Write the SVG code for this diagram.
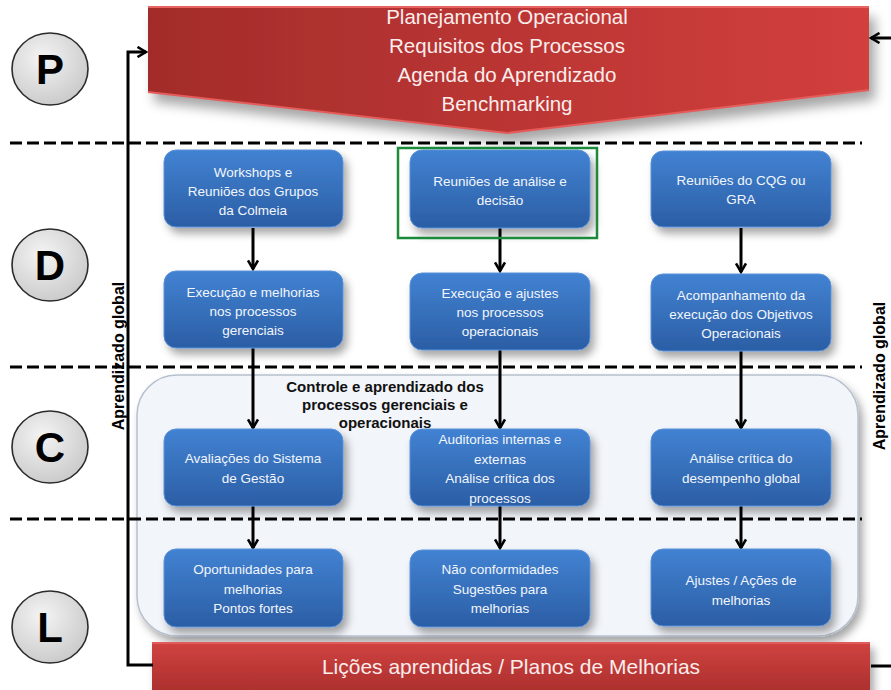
<svg xmlns="http://www.w3.org/2000/svg" width="891" height="690" viewBox="0 0 891 690">
<defs>
  <linearGradient id="gBlue" x1="0" y1="0" x2="0" y2="1">
    <stop offset="0" stop-color="#4282D2"/>
    <stop offset="1" stop-color="#2B5EA5"/>
  </linearGradient>
  <linearGradient id="gRedTop" x1="0" y1="0" x2="1" y2="0">
    <stop offset="0" stop-color="#A32C2A"/>
    <stop offset="1" stop-color="#D23F3D"/>
  </linearGradient>
  <linearGradient id="gRedBot" x1="0" y1="0" x2="0" y2="1">
    <stop offset="0" stop-color="#D04341"/>
    <stop offset="1" stop-color="#AA2E2C"/>
  </linearGradient>
  <radialGradient id="gCircle" cx="0.4" cy="0.35" r="0.7">
    <stop offset="0" stop-color="#F4F4F4"/>
    <stop offset="1" stop-color="#C9C9C9"/>
  </radialGradient>
  <filter id="shadow" x="-20%" y="-20%" width="150%" height="160%">
    <feDropShadow dx="4" dy="6" stdDeviation="4" flood-color="#000" flood-opacity="0.35"/>
  </filter>
  <filter id="shadowBig" x="-10%" y="-20%" width="125%" height="160%">
    <feDropShadow dx="6" dy="10" stdDeviation="6" flood-color="#000" flood-opacity="0.35"/>
  </filter>
  <marker id="arr" viewBox="0 0 12 12" refX="10" refY="6" markerWidth="12" markerHeight="12" markerUnits="userSpaceOnUse" orient="auto">
    <path d="M1.5 1 L10 6 L1.5 11" fill="none" stroke="#000" stroke-width="2.6"/>
  </marker>
</defs>
<style>
  .box { fill: url(#gBlue); stroke: #5B92DA; stroke-width: 1; filter: url(#shadow); }
  .bt { font-family: "Liberation Sans", Arial, sans-serif; font-size: 13.5px; fill: #F2F6FC; text-anchor: middle; }
  .dash { stroke: #000; stroke-width: 3; stroke-dasharray: 12 5; fill: none; }
  .conn { stroke: #000; stroke-width: 3; fill: none; }
  .circ { fill: url(#gCircle); stroke: #2B2B2B; stroke-width: 1.6; }
  .letter { font-family: "Liberation Sans", Arial, sans-serif; font-weight: bold; font-size: 42px; fill: #000; text-anchor: middle; }
  .side { font-family: "Liberation Sans", Arial, sans-serif; font-weight: bold; font-size: 16px; fill: #000; text-anchor: middle; }
  .ban { font-family: "Liberation Sans", Arial, sans-serif; font-size: 20.5px; fill: #FBEDEC; text-anchor: middle; }
  .pl { font-family: "Liberation Sans", Arial, sans-serif; font-weight: bold; font-size: 15px; fill: #111; text-anchor: middle; }
</style>

<!-- light panel -->
<g id="panel">
  <rect x="137" y="375" width="721" height="261" rx="40" fill="#F2F5FA" stroke="#B6C0CE" stroke-width="1.5" filter="url(#shadow)"/>
  <text class="pl" x="385" y="392">Controle e aprendizado dos</text>
  <text class="pl" x="385" y="410">processos gerenciais e</text>
  <text class="pl" x="385" y="428">operacionais</text>
</g>

<!-- dashed separators -->
<g id="separators">
  <line class="dash" x1="10" y1="143" x2="862" y2="143"/>
  <line class="dash" x1="10" y1="367" x2="862" y2="367"/>
  <line class="dash" x1="10" y1="519" x2="862" y2="519"/>
</g>

<!-- top banner -->
<g id="planejamento">
  <polygon points="148,7 869,7 869,90 507,133 148,92" fill="url(#gRedTop)" filter="url(#shadowBig)"/>
  <polyline points="148,7 869,7" stroke="#E86462" stroke-width="2" fill="none"/>
  <polyline points="148,92 507,133 869,90" stroke="#E55B59" stroke-width="2" fill="none"/>
  <text class="ban" x="507" y="24">Planejamento Operacional</text>
  <text class="ban" x="507" y="53">Requisitos dos Processos</text>
  <text class="ban" x="507" y="82">Agenda do Aprendizado</text>
  <text class="ban" x="507" y="111">Benchmarking</text>
</g>

<!-- bottom banner -->
<g id="licoes">
  <rect x="152" y="642" width="718" height="52" fill="url(#gRedBot)" filter="url(#shadow)"/>
  <line x1="152" y1="643" x2="870" y2="643" stroke="#E66663" stroke-width="1.5"/>
  <text x="511" y="674" font-family="Liberation Sans, Arial, sans-serif" font-size="21px" fill="#FBEDEC" text-anchor="middle">Lições aprendidas / Planos de Melhorias</text>
</g>

<!-- phase circles -->
<g id="circle-P"><ellipse class="circ" cx="50" cy="69" rx="38" ry="36"/><text class="letter" x="50" y="84">P</text></g>
<g id="circle-D"><ellipse class="circ" cx="50" cy="265" rx="38" ry="36"/><text class="letter" x="50" y="280">D</text></g>
<g id="circle-C"><ellipse class="circ" cx="50" cy="447" rx="38" ry="36"/><text class="letter" x="50" y="462">C</text></g>
<g id="circle-L"><ellipse class="circ" cx="50" cy="627" rx="38" ry="36"/><text class="letter" x="50" y="642">L</text></g>

<!-- side labels -->
<g id="label-left"><text class="side" transform="translate(124,356) rotate(-90)">Aprendizado global</text></g>
<g id="label-right"><text class="side" transform="translate(885,376) rotate(-90)">Aprendizado global</text></g>

<!-- connectors -->
<g id="connectors">
  <path class="conn" d="M153 665 L128 665 L128 52 L146 52" marker-end="url(#arr)"/>
  <path class="conn" d="M891 38 L871 38" marker-end="url(#arr)"/>
  <path class="conn" d="M891 666 L871 666"/>
  <line class="conn" x1="253" y1="228" x2="253" y2="269" marker-end="url(#arr)"/>
  <line class="conn" x1="500" y1="228" x2="500" y2="271" marker-end="url(#arr)"/>
  <line class="conn" x1="741" y1="228" x2="741" y2="272" marker-end="url(#arr)"/>
  <line class="conn" x1="253" y1="348" x2="253" y2="428" marker-end="url(#arr)"/>
  <line class="conn" x1="500" y1="350" x2="500" y2="428" marker-end="url(#arr)"/>
  <line class="conn" x1="741" y1="351" x2="741" y2="428" marker-end="url(#arr)"/>
  <line class="conn" x1="253" y1="506" x2="253" y2="548" marker-end="url(#arr)"/>
  <line class="conn" x1="500" y1="506" x2="500" y2="548" marker-end="url(#arr)"/>
  <line class="conn" x1="741" y1="506" x2="741" y2="548" marker-end="url(#arr)"/>
</g>

<!-- row 1 -->
<g id="workshops">
  <rect class="box" x="164" y="150" width="179" height="77" rx="12"/>
  <text class="bt" x="253" y="177">Workshops e</text>
  <text class="bt" x="253" y="196">Reuniões dos Grupos</text>
  <text class="bt" x="253" y="215">da Colmeia</text>
</g>
<g id="reunioes-analise">
  <rect class="box" x="410" y="150" width="180" height="78" rx="12"/>
  <text class="bt" x="500" y="186">Reuniões de análise e</text>
  <text class="bt" x="500" y="205">decisão</text>
  <rect x="398" y="148" width="199" height="90" fill="none" stroke="#1B8A3B" stroke-width="2.5"/>
</g>
<g id="reunioes-cqg">
  <rect class="box" x="651" y="151" width="180" height="76" rx="12"/>
  <text class="bt" x="741" y="185">Reuniões do CQG ou</text>
  <text class="bt" x="741" y="204">GRA</text>
</g>

<!-- row 2 -->
<g id="execucao-melhorias">
  <rect class="box" x="164" y="271" width="179" height="77" rx="12"/>
  <text class="bt" x="253" y="297">Execução e melhorias</text>
  <text class="bt" x="253" y="316">nos processos</text>
  <text class="bt" x="253" y="335">gerenciais</text>
</g>
<g id="execucao-ajustes">
  <rect class="box" x="410" y="273" width="180" height="77" rx="12"/>
  <text class="bt" x="500" y="298">Execução e ajustes</text>
  <text class="bt" x="500" y="317">nos processos</text>
  <text class="bt" x="500" y="336">operacionais</text>
</g>
<g id="acompanhamento">
  <rect class="box" x="651" y="274" width="180" height="77" rx="12"/>
  <text class="bt" x="741" y="300">Acompanhamento da</text>
  <text class="bt" x="741" y="319">execução dos Objetivos</text>
  <text class="bt" x="741" y="338">Operacionais</text>
</g>

<!-- row 3 -->
<g id="avaliacoes">
  <rect class="box" x="164" y="429" width="179" height="77" rx="12"/>
  <text class="bt" x="253" y="463">Avaliações do Sistema</text>
  <text class="bt" x="253" y="483">de Gestão</text>
</g>
<g id="auditorias">
  <rect class="box" x="410" y="429" width="180" height="77" rx="12"/>
  <text class="bt" x="500" y="444">Auditorias  internas e</text>
  <text class="bt" x="500" y="464">externas</text>
  <text class="bt" x="500" y="483">Análise crítica dos</text>
  <text class="bt" x="500" y="503">processos</text>
</g>
<g id="analise-critica">
  <rect class="box" x="651" y="429" width="180" height="77" rx="12"/>
  <text class="bt" x="741" y="463">Análise crítica do</text>
  <text class="bt" x="741" y="483">desempenho global</text>
</g>

<!-- row 4 -->
<g id="oportunidades">
  <rect class="box" x="164" y="549" width="179" height="78" rx="12"/>
  <text class="bt" x="253" y="574">Oportunidades para</text>
  <text class="bt" x="253" y="594">melhorias</text>
  <text class="bt" x="253" y="613">Pontos fortes</text>
</g>
<g id="nao-conformidades">
  <rect class="box" x="410" y="550" width="180" height="77" rx="12"/>
  <text class="bt" x="500" y="574">Não conformidades</text>
  <text class="bt" x="500" y="594">Sugestões para</text>
  <text class="bt" x="500" y="613">melhorias</text>
</g>
<g id="ajustes">
  <rect class="box" x="651" y="549" width="180" height="77" rx="12"/>
  <text class="bt" x="741" y="585">Ajustes / Ações de</text>
  <text class="bt" x="741" y="605">melhorias</text>
</g>
</svg>
